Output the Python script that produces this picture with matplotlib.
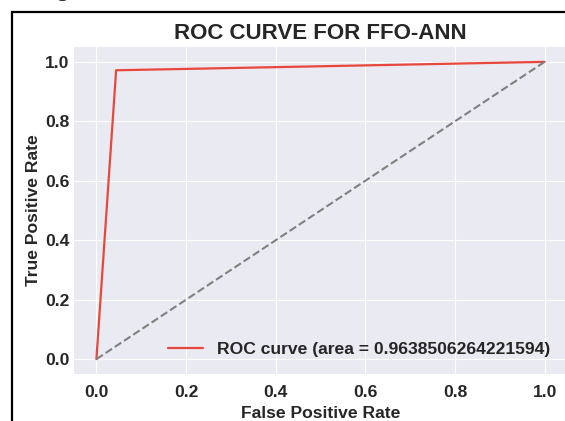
import matplotlib
matplotlib.use("Agg")
import matplotlib.pyplot as plt
from matplotlib.patches import Rectangle

# ROC points
fpr = [0.0, 0.044, 1.0]
tpr = [0.0, 0.9717, 1.0]
roc_auc = 0.9638506264221594
chance_x = [0, 1]
chance_y = [0, 1]
ticks = [0.0, 0.2, 0.4, 0.6, 0.8, 1.0]

plt.style.use("seaborn-v0_8-darkgrid")
plt.rcParams["font.family"] = ["Liberation Sans", "DejaVu Sans"]
plt.rcParams["font.weight"] = "bold"
text_col = "#262626"
fs = 12.6

fig = plt.figure(figsize=(5.65, 4.21), dpi=100)
fig.patch.set_facecolor("white")

# frame from the page the chart was cut out of
fig.patches.append(Rectangle((12 / 565, -0.1), 1.2, (421 - 12) / 421 + 0.1,
                             transform=fig.transFigure, fill=False,
                             edgecolor="black", linewidth=1.6, zorder=0))
fig.text(40 / 565, 1.0 + 4 / 421, "Figure", family="Liberation Serif",
         fontsize=15, fontweight="bold", va="baseline", ha="left")

ax = fig.add_axes([74 / 565, 47 / 421, 493 / 565, 327 / 421])
ax.plot(fpr, tpr, color="#e8483c", lw=1.6,
        label=f"ROC curve (area = {roc_auc})")
ax.plot(chance_x, chance_y, color="gray", lw=1.5, linestyle="--")

ax.set_xticks(ticks)
ax.set_yticks(ticks)
ax.tick_params(labelsize=fs, colors=text_col)
ax.tick_params(axis="x", pad=8)
for lab in ax.get_xticklabels() + ax.get_yticklabels():
    lab.set_fontweight("bold")

ax.set_xlabel("False Positive Rate", fontsize=fs, fontweight="bold",
              color=text_col, labelpad=4)
ax.set_ylabel("True Positive Rate", fontsize=fs, fontweight="bold",
              color=text_col, labelpad=3)
ax.set_title("ROC CURVE FOR FFO-ANN", fontsize=16, fontweight="bold",
             color=text_col, pad=6)
ax.legend(loc="lower right", frameon=False, borderaxespad=0.55,
          prop={"weight": "bold", "size": fs})

fig.savefig("out.png", dpi=100)
